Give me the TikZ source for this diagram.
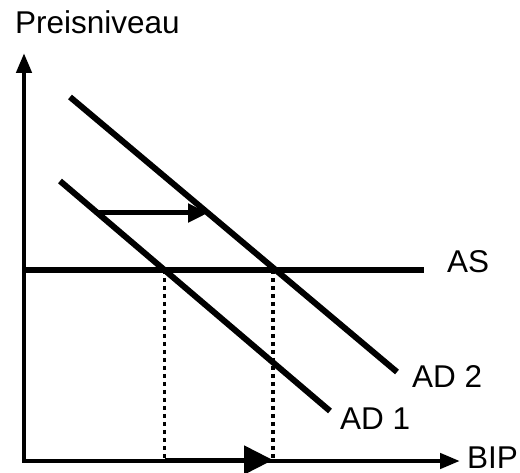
\documentclass[tikz,border=0pt]{standalone}
\usepackage{fontspec}
\setmainfont{Liberation Sans}
\usetikzlibrary{arrows.meta}
\begin{document}
\begin{tikzpicture}[x=1pt,y=-1pt,
  lbl/.style={anchor=base west, inner sep=0pt, text depth=0pt, font=\fontsize{31.5}{36}\selectfont},
  axis/.style={line width=4.5pt, -{Triangle[length=20pt,width=15pt]}},
  curve/.style={line width=6pt},
  guide/.style={line width=3.5pt, dash pattern=on 4pt off 4pt},
  shiftarrow/.style={line width=5pt, -{Triangle[length=20pt,width=18pt]}},
  bigshift/.style={line width=5pt, -{Triangle[length=29pt,width=28pt]}}]
\useasboundingbox (0,0) rectangle (520,473);
% coordinates
\coordinate (O) at (24,461);
\coordinate (Ytip) at (24,53);
\coordinate (Xtip) at (460,461);
\coordinate (ASs) at (24,270);
\coordinate (ASe) at (424,270);
\coordinate (AD1s) at (60,181);
\coordinate (AD1e) at (330,411);
\coordinate (AD2s) at (70,97);
\coordinate (AD2e) at (397,372);
\coordinate (Sh1) at (98,213);
\coordinate (Sh2) at (208,213);
\coordinate (G1t) at (164.5,270);
\coordinate (G1b) at (164.5,461);
\coordinate (G2t) at (273,270);
\coordinate (G2b) at (273,461);
\coordinate (B1) at (164.5,460);
\coordinate (B2) at (273,460);
% labels
\node[lbl] (py) at (15,34) {Preisniveau};
\node[lbl] (as) at (447,273) {AS};
\node[lbl] (ad2) at (412,388) {AD 2};
\node[lbl] (ad1) at (340,429) {AD 1};
\node[lbl] (bip) at (467,468.5) {BIP};
% guides
\draw[guide] (G1t) -- (G1b);
\draw[guide] (G2t) -- (G2b);
% axes
\draw[axis] ([yshift=1.5pt]O) -- (Ytip);
\draw[axis] ([xshift=-2pt]O) -- (Xtip);
% curves
\draw[curve] (ASs) -- (ASe);
\draw[curve] (AD1s) -- (AD1e);
\draw[curve] (AD2s) -- (AD2e);
% shifts
\draw[shiftarrow] (Sh1) -- (Sh2);
\draw[bigshift] (B1) -- (B2);
\end{tikzpicture}
\end{document}
